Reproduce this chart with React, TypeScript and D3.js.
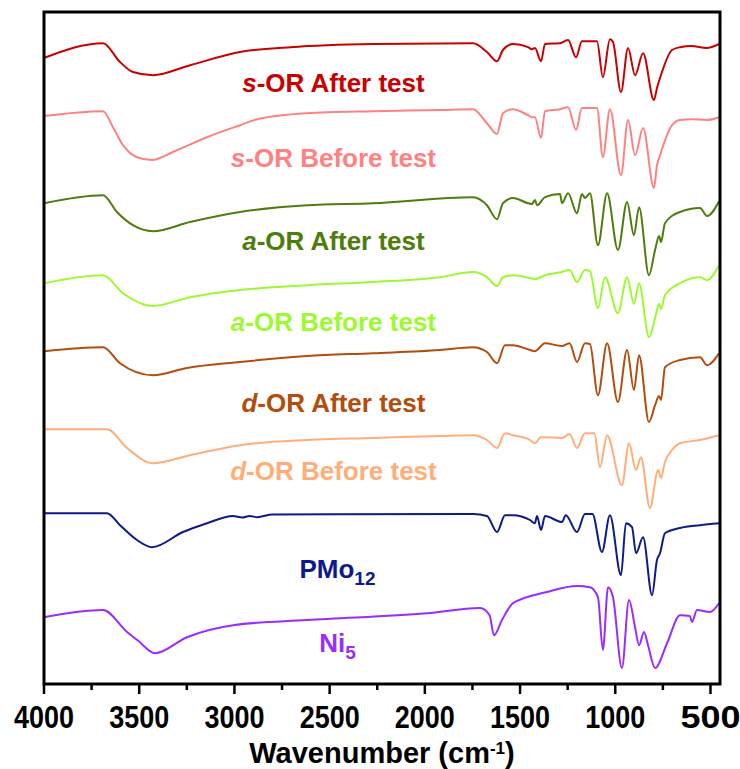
import React, { useEffect } from "react";
import * as d3 from "d3";

// FTIR spectra, stacked (transmittance, a.u.)
const sAfter: [number, number][] = [
  [4000, 156.5], [3690, 160.2], [3601, 155.5], [3533, 153], [3428, 152.2], [3233, 154.7],
  [2971, 158], [2708, 159.2], [2272, 160], [1747, 160.2], [1674, 158], [1621, 155.7],
  [1590, 158.5], [1537, 160], [1458, 159.2], [1437, 158.7], [1422, 159], [1390, 155.7],
  [1369, 160], [1290, 160.2], [1248, 161], [1206, 156.7], [1175, 160.7], [1096, 160.7],
  [1065, 151.7], [1028, 161.2], [1012, 160.5], [970, 148], [933, 159], [896, 152.2],
  [854, 157.7], [797, 146], [781, 149], [765, 151.5], [702, 158.5], [660, 159.2],
  [600, 159.5], [520, 159], [455, 160],
];
const sBefore: [number, number][] = [
  [4000, 142], [3690, 143.2], [3638, 139.2], [3585, 134.7], [3512, 131.7], [3433, 131],
  [3323, 133], [3144, 136.7], [2971, 139.7], [2881, 141.2], [2619, 142.7], [2272, 143.2],
  [1920, 143.5], [1747, 143.7], [1674, 140.2], [1621, 137.5], [1590, 142.7], [1537, 143.7],
  [1458, 142.2], [1437, 141.7], [1422, 141.7], [1390, 136.5], [1369, 143.2], [1290, 143.7],
  [1248, 144.2], [1206, 138.5], [1175, 144], [1096, 144], [1065, 131.7], [1028, 143.7],
  [970, 127.2], [933, 141], [896, 132.2], [854, 139], [797, 124], [781, 129.7],
  [765, 132.2], [702, 139.7], [660, 141], [600, 141.2], [520, 141], [455, 141.7],
];
const aAfter: [number, number][] = [
  [4000, 120.2], [3690, 122.2], [3617, 118], [3533, 114.7], [3428, 113.2], [3233, 115.5],
  [2971, 118], [2619, 119.7], [2272, 120.2], [1747, 121.7], [1674, 119.7], [1621, 116.2],
  [1590, 120.2], [1537, 121.5], [1458, 120.2], [1437, 120], [1422, 121], [1411, 119.7],
  [1369, 121.7], [1290, 122.5], [1280, 120.2], [1248, 122.7], [1201, 117.7], [1175, 122.5],
  [1159, 121.5], [1133, 122.7], [1091, 109.7], [1043, 122.7], [986, 108.5], [938, 120.5],
  [902, 112.2], [875, 119.2], [823, 102.2], [791, 108.5], [770, 112], [760, 110.5],
  [739, 115.2], [660, 118], [555, 119], [518, 117], [455, 120.7],
];
const aBefore: [number, number][] = [
  [4000, 100.2], [3690, 102.2], [3585, 97.7], [3428, 94.5], [3233, 96.7], [2971, 98.5],
  [2619, 99.7], [2272, 100.5], [1920, 101.7], [1747, 103], [1674, 101.7], [1621, 99.5],
  [1590, 101.7], [1537, 102.2], [1448, 101.5], [1422, 101.2], [1369, 102.2], [1280, 103],
  [1240, 103.5], [1201, 100.5], [1159, 103.5], [1133, 103.2], [1091, 94], [1054, 101.7],
  [986, 92.7], [938, 101.7], [902, 95], [875, 100.2], [823, 86.7], [791, 91.5],
  [770, 95], [760, 93.7], [739, 97.2], [660, 100.2], [555, 101.7], [518, 101], [455, 104.7],
];
const dAfter: [number, number][] = [
  [4000, 83.2], [3690, 84.2], [3601, 80.2], [3428, 77.2], [3249, 79], [2971, 80.5],
  [2619, 82], [2272, 82.7], [1920, 83.5], [1747, 84.2], [1674, 83], [1621, 80.2],
  [1579, 84.7], [1537, 84.7], [1448, 83.5], [1422, 83.2], [1369, 85.2], [1280, 84.5],
  [1240, 85.2], [1201, 80.5], [1159, 85.2], [1133, 85], [1091, 72.2], [1043, 85.2],
  [986, 70.5], [938, 83.5], [902, 73.5], [875, 82.2], [823, 65.5], [791, 69.7],
  [770, 72], [760, 71], [739, 79.2], [660, 81], [555, 81.7], [518, 79.7], [455, 82.7],
];
const dBefore: [number, number][] = [
  [4000, 63.7], [3669, 63.7], [3564, 59], [3428, 55.2], [3233, 57.2], [2971, 59.7],
  [2619, 61], [2272, 61.5], [1920, 62], [1747, 62.2], [1674, 61], [1621, 59],
  [1579, 62.7], [1537, 62.2], [1448, 61], [1422, 60.2], [1390, 61.7], [1280, 61.5],
  [1240, 62.5], [1201, 59], [1159, 62.7], [1110, 62.7], [1080, 54.2], [1043, 62.2],
  [965, 49.7], [928, 60.2], [891, 53.5], [865, 56.7], [818, 44], [775, 53.5],
  [760, 51.5], [739, 55.5], [702, 58.5], [660, 60.2], [555, 61], [455, 62.2],
];
const pmo12: [number, number][] = [
  [4000, 42.7], [3669, 42.7], [3601, 39.7], [3512, 36], [3433, 34.2], [3270, 38],
  [3144, 40.2], [3007, 42], [2960, 41.6], [2920, 42], [2880, 41.7], [2800, 42.4], [1747, 42.5],
  [1674, 42], [1621, 38], [1579, 42.2], [1537, 42.2], [1448, 41], [1422, 40.2],
  [1411, 42], [1390, 38.5], [1369, 42], [1280, 40.5], [1260, 42.2], [1201, 38],
  [1159, 42.5], [1120, 42.5], [1070, 33], [1028, 42.2], [970, 27.2], [944, 40.2],
  [912, 39.2], [891, 32.7], [854, 36.7], [807, 22.2], [781, 31], [765, 32.7],
  [739, 37.7], [660, 39], [555, 39.7], [455, 40.2],
];
const ni5: [number, number][] = [
  [4000, 16.7], [3690, 18.5], [3564, 13], [3510, 11], [3417, 7.7], [3249, 11.7],
  [3007, 14.7], [2619, 16], [1989, 17.7], [1710, 19], [1660, 17.2], [1637, 12.2],
  [1595, 16], [1537, 20.2], [1359, 23], [1201, 24.5], [1133, 24.2], [1091, 21.7],
  [1065, 8.5], [1038, 24.2], [1012, 21.7], [965, 4], [928, 21], [896, 14.2],
  [875, 9.7], [849, 13], [828, 9.7], [791, 4], [728, 10.2], [660, 17.2],
  [608, 17], [597, 15.5], [571, 18.5], [503, 18], [455, 20.2],
];

const seriesNames = ["s-OR After test", "s-OR Before test", "a-OR After test", "a-OR Before test",
  "d-OR After test", "d-OR Before test", "PMo12", "Ni5"];
const seriesData = [sAfter, sBefore, aAfter, aBefore, dAfter, dBefore, pmo12, ni5];
const seriesColors = ["#c80000", "#ff8282", "#4e7d0c", "#9dfa30", "#b34c0c", "#ffae7a", "#0e1a8a", "#9a2cff"];
// label anchor (value on the y scale) for each series
const labelLevels = [148, 129.2, 108.5, 88.2, 68, 51, 26.5, 8];

const majorTicks = [4000, 3500, 3000, 2500, 2000, 1500, 1000, 500];
const minorTicks = [3750, 3250, 2750, 2250, 1750, 1250, 750];

const W = 740, H = 769;
const left = 44, right = 720, top = 12, bottom = 684;
const font = "'Liberation Sans', Arial, sans-serif";

export default function App() {
  useEffect(() => {
    document.body.style.margin = "0";
  }, []);

  const x = d3.scaleLinear().domain([4000, 450]).range([left, right]);
  const y = d3.scaleLinear().domain([0, 168]).range([bottom, top]);
  const line = d3.line<[number, number]>()
    .x((d) => x(d[0]))
    .y((d) => y(d[1]))
    .curve(d3.curveMonotoneX);

  const labelX = x(2480);

  const renderLabel = (name: string, i: number) => {
    const ly = y(labelLevels[i]);
    const common = { x: labelX, y: ly, fill: seriesColors[i], fontFamily: font, fontWeight: 700, fontSize: 26, textAnchor: "middle" as const };
    if (name === "PMo12") {
      return (
        <text key={name} {...common} x={labelX + 4}>
          PMo<tspan fontSize={19} dy={7}>12</tspan>
        </text>
      );
    }
    if (name === "Ni5") {
      return (
        <text key={name} {...common} x={labelX + 4}>
          Ni<tspan fontSize={19} dy={7}>5</tspan>
        </text>
      );
    }
    const first = name.slice(0, 1);
    return (
      <text key={name} {...common}>
        <tspan fontStyle="italic">{first}</tspan>
        {name.slice(1)}
      </text>
    );
  };

  return (
    <svg width={W} height={H} style={{ display: "block", background: "#fff" }}>
      {seriesData.map((d, i) => (
        <path key={i} d={line(d) || ""} fill="none" stroke={seriesColors[i]} strokeWidth={2} strokeLinejoin="round" />
      ))}
      {seriesNames.map((n, i) => renderLabel(n, i))}
      <rect x={left} y={top} width={right - left} height={bottom - top} fill="none" stroke="#000" strokeWidth={3} />
      {majorTicks.map((t) => (
        <g key={t}>
          <line x1={x(t)} x2={x(t)} y1={bottom} y2={bottom + 10} stroke="#000" strokeWidth={2.5} />
          <text x={x(t)} y={bottom + 44} textAnchor="middle" fontFamily={font} fontWeight={700}
            fontSize={32} textLength={60} lengthAdjust="spacingAndGlyphs">{t}</text>
        </g>
      ))}
      {minorTicks.map((t) => (
        <line key={t} x1={x(t)} x2={x(t)} y1={bottom} y2={bottom + 6} stroke="#000" strokeWidth={2.5} />
      ))}
      <text x={382} y={763} textAnchor="middle" fontFamily={font} fontWeight={700} fontSize={29}>
        Wavenumber (cm<tspan fontSize={17} baselineShift="super">-1</tspan>)
      </text>
    </svg>
  );
}
